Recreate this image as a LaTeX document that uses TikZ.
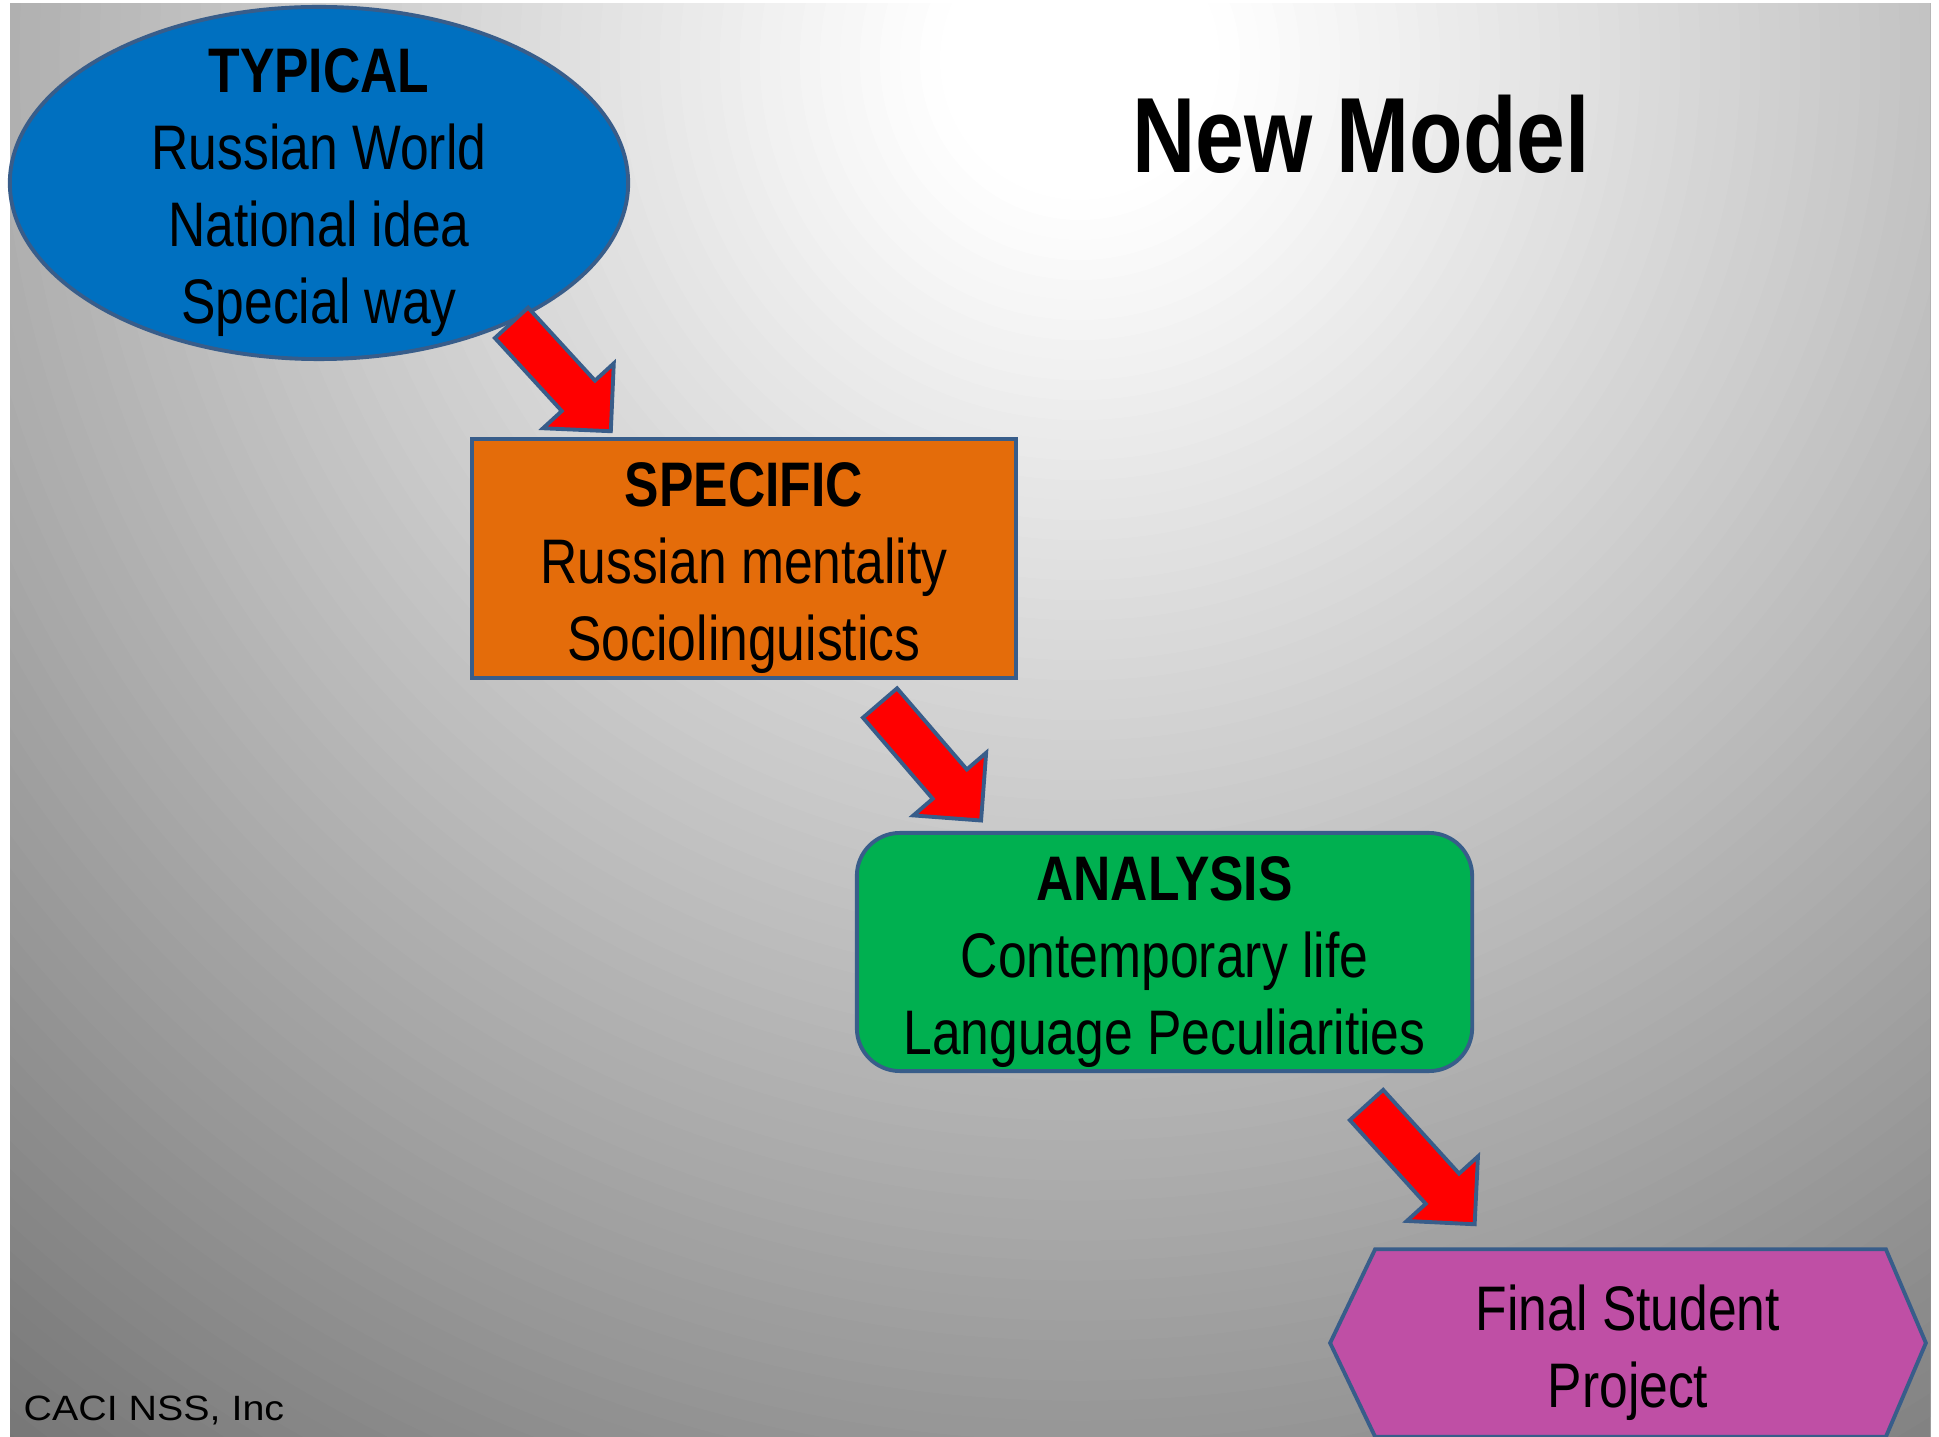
\documentclass[tikz,border=0pt]{standalone}
\usepackage{fontspec}
\setmainfont{Liberation Sans}[FakeStretch=0.82]
\newfontfamily\caciface{Liberation Sans}[FakeStretch=1.12]
\usepackage[HTML]{xcolor}
\usepackage{tikz}
\usetikzlibrary{positioning, calc, shapes.geometric}

\definecolor{ppblue}{HTML}{0070C0}
\definecolor{pporange}{HTML}{E46C0A}
\definecolor{ppgreen}{HTML}{00B050}
\definecolor{ppviolet}{HTML}{BF4FA5}
\definecolor{slateline}{HTML}{385D8A}
\definecolor{arrowred}{HTML}{FF0000}
\pgfdeclarelayer{slide}
\pgfdeclarelayer{back}
\pgfsetlayers{slide,back,main}

\begin{document}
\begin{tikzpicture}[x=0.01cm, y=-0.01cm,
  outline/.style={draw=slateline, line width=1.1pt},
  topic/.style={align=center, inner sep=0pt, text=black, font=\fontsize{17.9}{21.9}\selectfont},
  typshape/.style={outline, ellipse, fill=ppblue, minimum width=6.18cm, minimum height=3.52cm, inner sep=0pt},
  specbox/.style={outline, fill=pporange, minimum width=5.44cm, minimum height=2.39cm},
  anabox/.style={outline, fill=ppgreen, rounded corners=0.43cm, minimum width=6.15cm, minimum height=2.38cm},
  finbox/.style={inner sep=0pt, minimum width=5.94cm, minimum height=1.86cm},
  arrowbody/.style={outline, fill=arrowred, line join=miter},
  pics/redarrow/.style={code={
    \draw[arrowbody] (0,22.5) -- (#1-48,22.5) -- (#1-48,48) -- (#1,0) -- (#1-48,-48) -- (#1-48,-22.5) -- (0,-22.5) -- cycle;
  }}]
\useasboundingbox (0,0) rectangle (1939,1437);

\begin{pgfonlayer}{slide}
\fill[white] (0,0) rectangle (1939,1437);
\begin{scope}
\clip (10,4) rectangle (1930,1437);
\foreach \r in {1800,1780,...,140} {
  \pgfmathsetmacro\mix{max(0,min(100,100-0.0333*(\r-150)))}
  \pgfmathsetmacro\rr{\r/100}
  \fill[white!\mix!black] (1080,60) circle (\rr cm);
}
\end{scope}
\end{pgfonlayer}

\node[typshape] (Typ) at (319,183) {};
\node[topic] (TypText) at ([yshift=-0.1cm]Typ.center) {\textbf{TYPICAL}\\Russian World\\National idea\\Special way};
\node[specbox] (Spec) at (744,558.5) {};
\node[topic] (SpecText) at ([yshift=-0.1cm]Spec.center) {\textbf{SPECIFIC}\\Russian mentality\\Sociolinguistics};
\node[anabox] (Ana) at (1164.5,952) {};
\node[topic] (AnaText) at ([yshift=-0.1cm]Ana.center) {\textbf{ANALYSIS}\\Contemporary life\\Language Peculiarities};
\node[finbox] (Fin) at (1628,1343) {};
\node[topic] (FinText) at ([yshift=-0.1cm]Fin.center) {Final Student\\Project};

\begin{pgfonlayer}{back}
\draw[outline, fill=ppviolet] (Fin.west) -- ($(Fin.north west)+(45,0)$) -- ($(Fin.north east)+(-40,0)$) -- (Fin.east)
  -- ($(Fin.south east)+(-40,0)$) -- ($(Fin.south west)+(45,0)$) -- cycle;
\end{pgfonlayer}

\pic[rotate=-47.5] at (Typ.-36) {redarrow=147};
\pic[rotate=-49.3] at ($(Spec.south)+(136,23)$) {redarrow=155};
\pic[rotate=-47.8] at ($(Ana.south)+(202,32)$) {redarrow=161};

\node[anchor=base, font=\fontsize{30.4}{36}\selectfont\bfseries] (Title) at (1361,173) {New Model};
\node[anchor=base west, inner sep=0pt, font=\caciface\fontsize{10}{12}\selectfont] (Caci) at (23,1420) {CACI NSS, Inc};
\end{tikzpicture}
\end{document}
